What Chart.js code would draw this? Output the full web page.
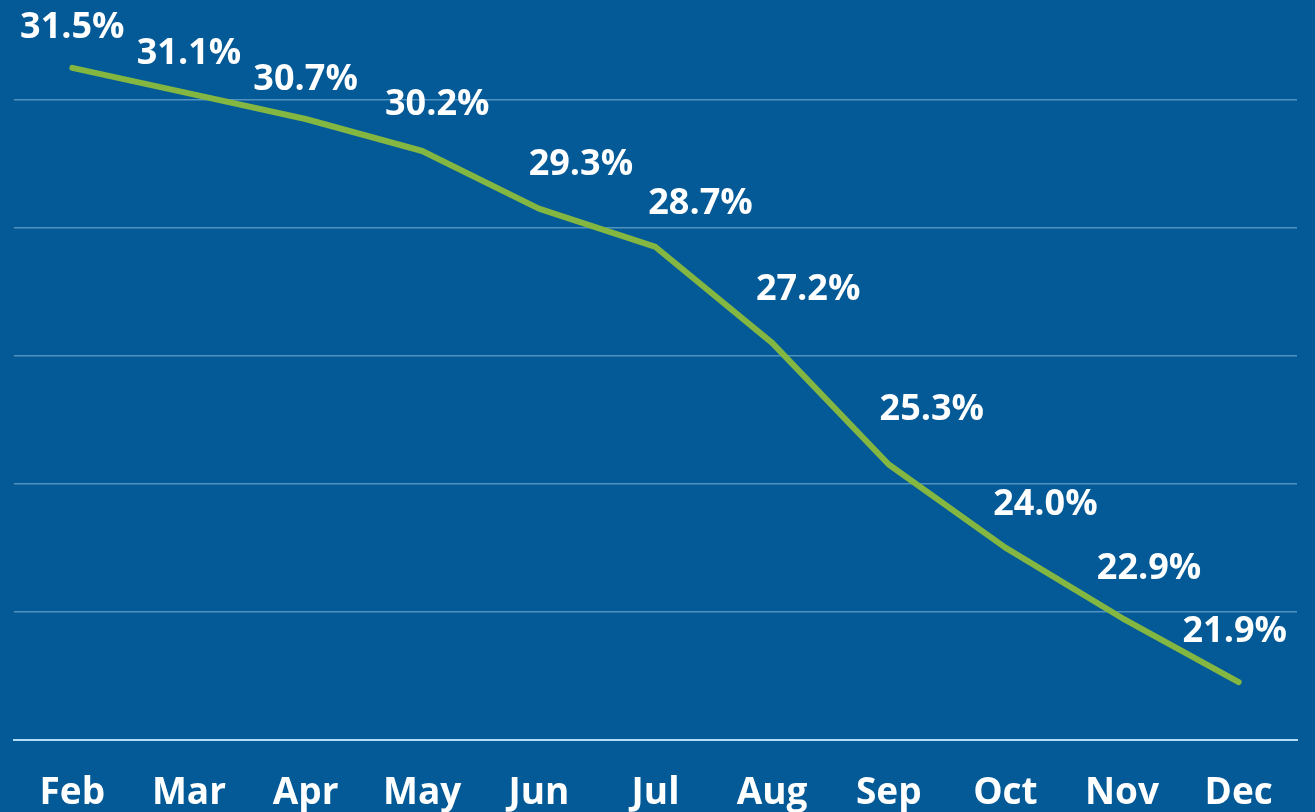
<!DOCTYPE html>
<html>
  <head>
    <title>Monthly rate</title>
    <script src="https://cdn.jsdelivr.net/npm/chart.js"></script>
    <style>
      html,
      body {
        margin: 0;
        padding: 0;
        background: #035a96;
      }
      .wrap {
        width: 1315px;
        height: 812px;
        position: relative;
      }
    </style>
  </head>
  <body>
    <div class="wrap">
      <canvas id="rateChart"></canvas>
    </div>

    <script>
      const months = ["Feb", "Mar", "Apr", "May", "Jun", "Jul", "Aug", "Sep", "Oct", "Nov", "Dec"];
      const rates = [31.5, 31.1, 30.7, 30.2, 29.3, 28.7, 27.2, 25.3, 24.0, 22.9, 21.9];
      const gridValues = [21, 23, 25, 27, 29, 31];

      // where each value label sits relative to its point (px)
      const labelShift = [
        [0, -40], [0, -40], [0, -39], [15, -46], [42, -44], [45, -43],
        [36, -53], [43, -55], [40, -43], [27, -49], [-4, -50],
      ];

      const fontFamily = "'Open Sans', Lato, sans-serif";

      const valueLabels = {
        id: "valueLabels",
        afterDatasetsDraw(chart) {
          const ctx = chart.ctx;
          const meta = chart.getDatasetMeta(0);
          ctx.save();
          ctx.fillStyle = "#ffffff";
          ctx.font = "bold 36px " + fontFamily;
          ctx.textAlign = "center";
          ctx.textBaseline = "middle";
          meta.data.forEach((pt, i) => {
            const s = labelShift[i];
            ctx.fillText(rates[i].toFixed(1) + "%", pt.x + s[0], pt.y + s[1]);
          });
          ctx.restore();
        },
      };

      new Chart(document.getElementById("rateChart"), {
        type: "line",
        data: {
          labels: months,
          datasets: [
            {
              data: rates,
              borderColor: "#84b741",
              borderWidth: 6,
              pointRadius: 0,
              tension: 0,
              borderCapStyle: "round",
              borderJoinStyle: "round",
            },
          ],
        },
        options: {
          responsive: true,
          maintainAspectRatio: false,
          animation: false,
          layout: {
            padding: { left: 14, right: 18, top: 0, bottom: -36 },
          },
          plugins: {
            legend: { display: false },
            tooltip: { enabled: false },
          },
          scales: {
            x: {
              offset: true,
              grid: { display: false, drawTicks: false },
              border: { color: "#b4dbf4", width: 2 },
              ticks: {
                color: "#ffffff",
                padding: 32,
                font: { family: fontFamily, size: 37, weight: "bold" },
              },
            },
            y: {
              min: 21,
              max: 32.56,
              afterBuildTicks: (scale) => {
                scale.ticks = gridValues.map((v) => ({ value: v }));
              },
              ticks: { display: false },
              border: { display: false },
              grid: {
                drawTicks: false,
                lineWidth: 1.5,
                color: (c) =>
                  c.tick && c.tick.value === 21 ? "rgba(0,0,0,0)" : "rgba(180,215,240,0.45)",
              },
            },
          },
        },
        plugins: [valueLabels],
      });
    </script>
  </body>
</html>
